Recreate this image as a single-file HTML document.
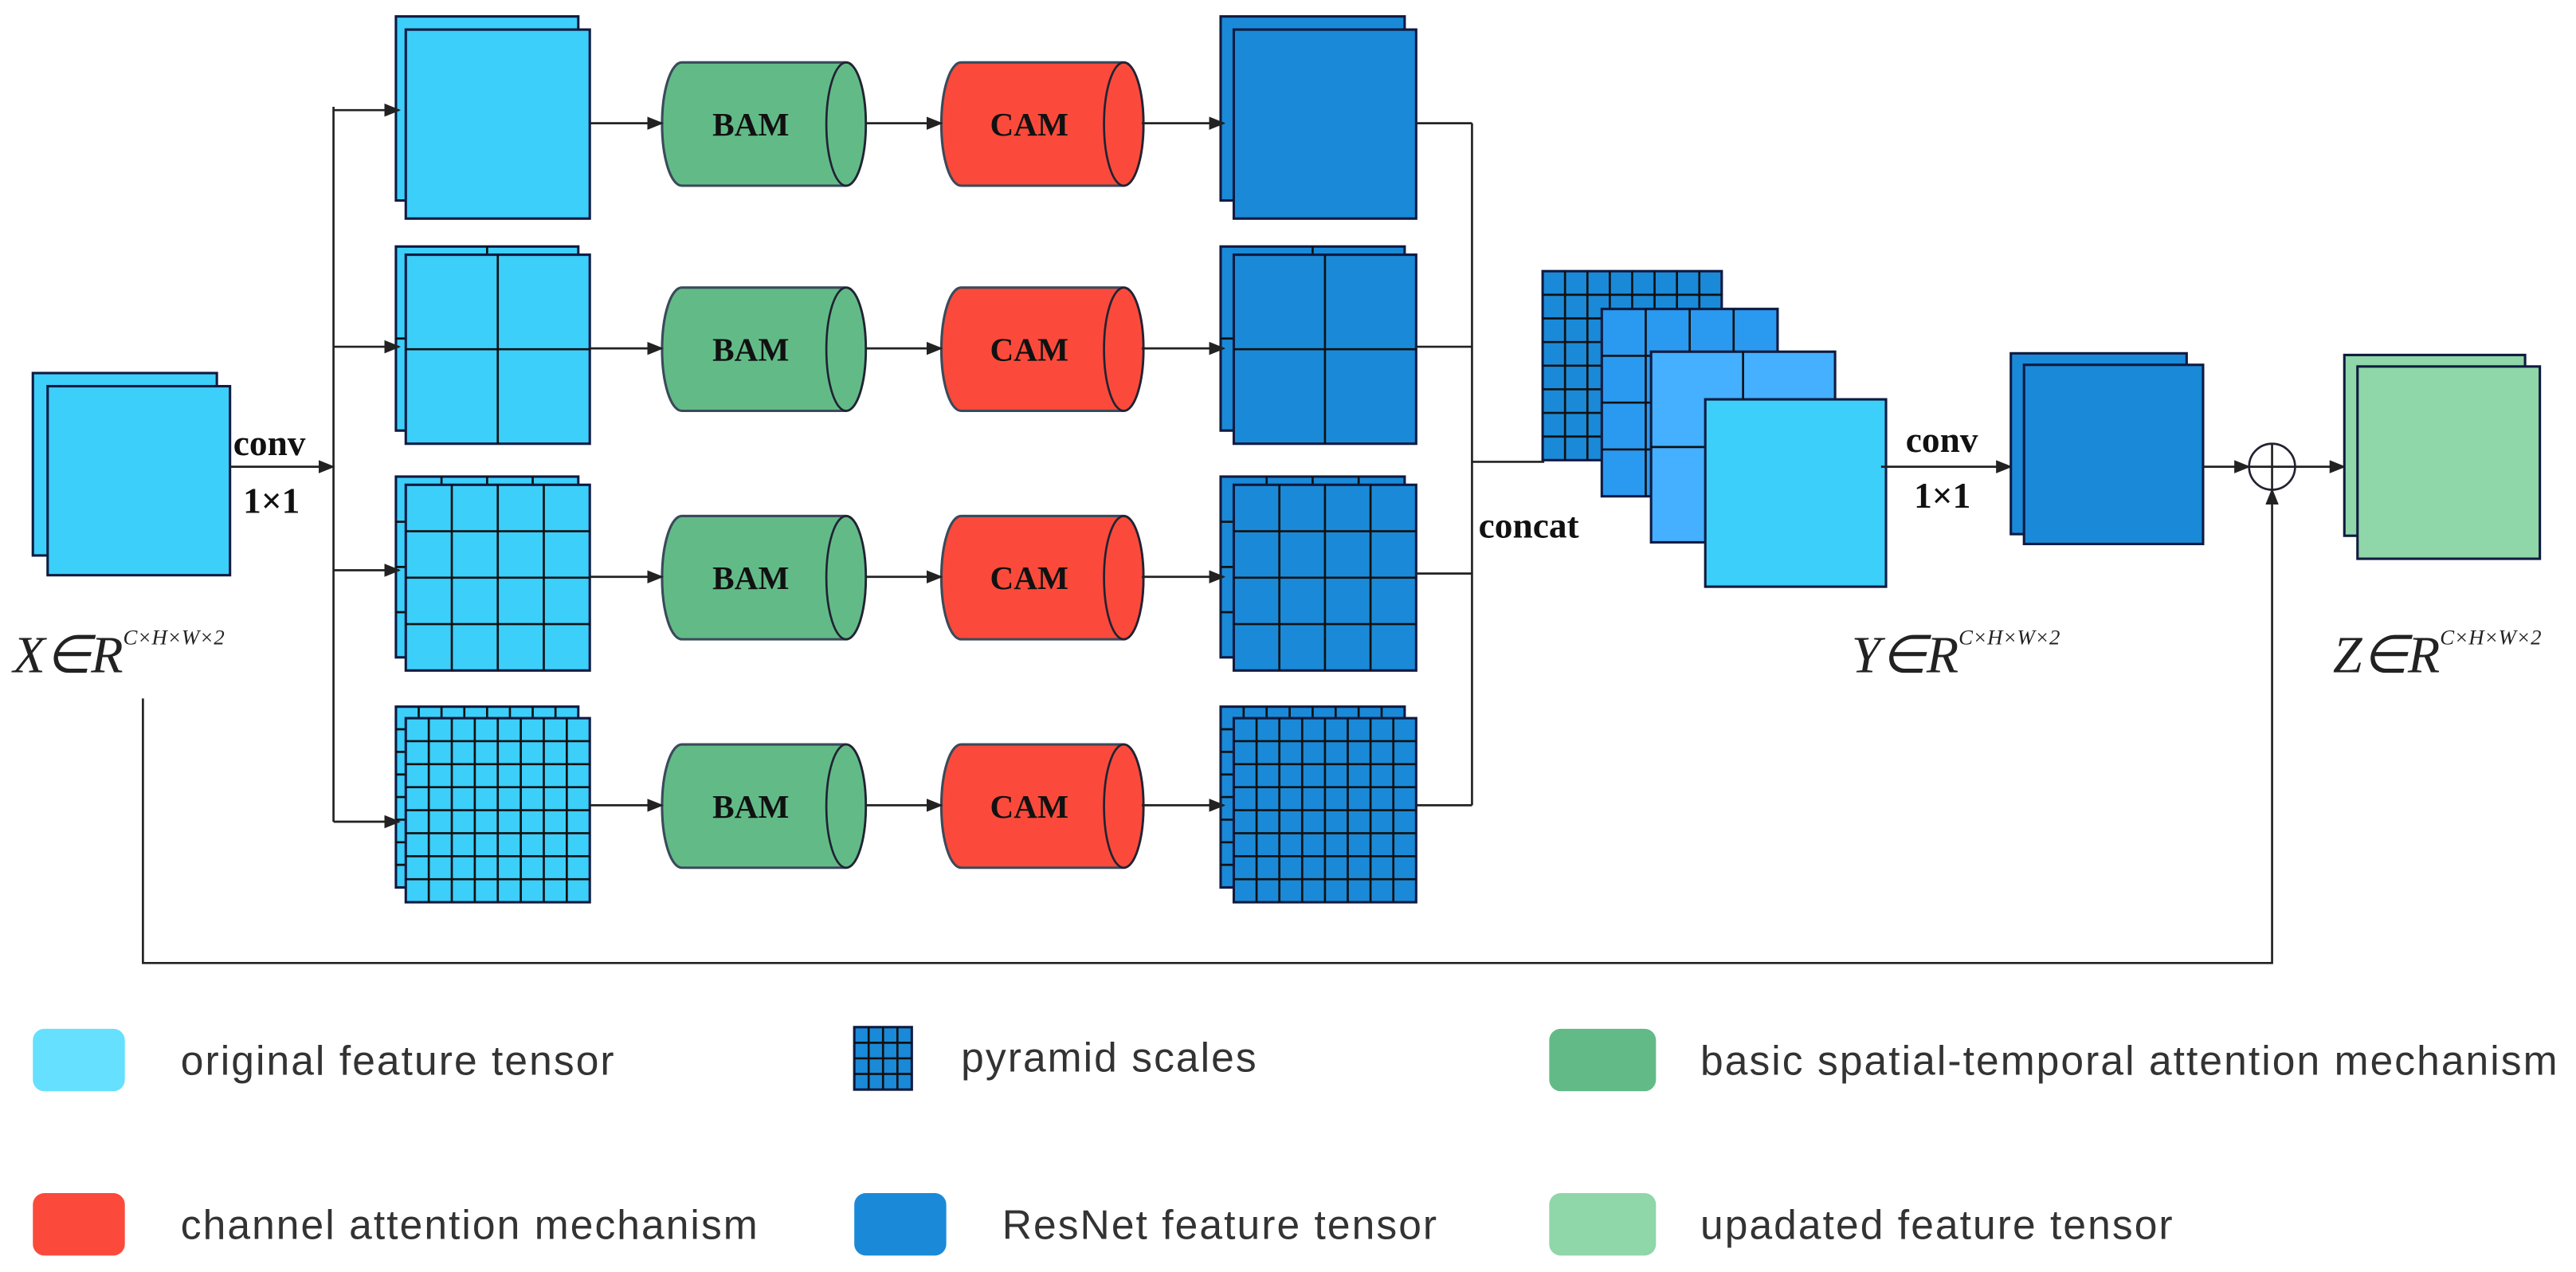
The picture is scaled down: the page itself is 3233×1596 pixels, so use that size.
<!DOCTYPE html>
<html><head><meta charset="utf-8"><style>html,body{margin:0;padding:0;background:#fff}svg{display:block}</style></head>
<body>
<svg id="s" xmlns="http://www.w3.org/2000/svg" width="3233" height="1596" viewBox="0 0 1568 774" preserveAspectRatio="none">
<defs><marker id="a" markerWidth="10" markerHeight="8" refX="9" refY="4" orient="auto" markerUnits="userSpaceOnUse"><path d="M0,0 L10,4 L0,8 Z" fill="#222"/></marker></defs>
<g id="g" stroke-width="1.3"></g>
</svg>
<script>
const g=document.getElementById('g');let h='';
const S='#101a40';
function rect(x1,y1,x2,y2,f,n){h+=`<rect x="${x1}" y="${y1}" width="${x2-x1}" height="${y2-y1}" fill="${f}" stroke="${S}" stroke-width="1.5"/>`;
 if(n>1){for(let i=1;i<n;i++){const x=x1+(x2-x1)*i/n,y=y1+(y2-y1)*i/n;h+=`<line x1="${x}" y1="${y1}" x2="${x}" y2="${y2}" stroke="#111" stroke-width="1.3"/><line x1="${x1}" y1="${y}" x2="${x2}" y2="${y}" stroke="#111" stroke-width="1.3"/>`;}}}
function line(p,arrow){h+=`<polyline points="${p}" fill="none" stroke="#222" stroke-width="1.3" ${arrow?'marker-end="url(#a)"':''}/>`;}
function cyl(x,y,w,hh,f,t){const r=12;h+=`<path d="M${x+r},${y} H${x+w-r} A${r},${hh/2} 0 0 1 ${x+w-r},${y+hh} H${x+r} A${r},${hh/2} 0 0 1 ${x+r},${y} Z" fill="${f}" stroke="#3a4a5a" stroke-width="1.5"/><ellipse cx="${x+w-r}" cy="${y+hh/2}" rx="${r}" ry="${hh/2}" fill="${f}" stroke="#223" stroke-width="1.3"/><text x="${x+w/2-8}" y="${y+hh/2+7}" text-anchor="middle" font-family="Liberation Serif,serif" font-weight="bold" font-size="20" fill="#111">${t}</text>`;}
function txt(x,y,t,s,extra){h+=`<text x="${x}" y="${y}" font-size="${s}" ${extra||''}>${t}</text>`;}
const C1='#3ccffa',C2='#1a8ad8';
rect(20,227,132,338,'#3ccffa');rect(29,235,140,350,'#3ccffa');
const rows=[[10,122,18,133,75],[150,262,155,270,212],[290,400,295,408,350],[430,540,437,549,490]];
const ns=[1,2,4,8];
const bys=[38,175,314,453];
rows.forEach((r,i)=>{
 rect(241,r[0],352,r[1],C1,ns[i]);rect(247,r[2],359,r[3],C1,ns[i]);
 rect(743,r[0],855,r[1],C2,ns[i]);rect(751,r[2],862,r[3],C2,ns[i]);
 cyl(403,bys[i],124,75,'#62bb87','BAM');cyl(573,bys[i],123,75,'#fb4a3b','CAM');
 const cy=bys[i]+37;
 line(`203,${[67,211,347,500][i]} 243,${[67,211,347,500][i]}`,1);
 line(`359,${cy} 403,${cy}`,1);line(`527,${cy} 573,${cy}`,1);line(`695,${cy} 745,${cy}`,1);
 line(`862,${[75,211,349,490][i]} 896,${[75,211,349,490][i]}`);
});
line('203,65 203,500');line('896,75 896,490');line('140,284 203,284',1);
rect(939,165,1048,280,C2,8);rect(975,188,1082,302,'#2a9af0',4);rect(1005,214,1117,330,'#44b0ff',2);rect(1038,243,1148,357,C1);
line('896,281 940,281');
line('1145,284 1224,284',1);
rect(1224,215,1331,325,C2);rect(1232,222,1341,331,C2);
line('1341,284 1369,284',1);
h+='<circle cx="1383" cy="284" r="14" fill="#fff" stroke="#223" stroke-width="1.3"/><line x1="1369" y1="284" x2="1397" y2="284" stroke="#222" stroke-width="1.3"/><line x1="1383" y1="270" x2="1383" y2="298" stroke="#222" stroke-width="1.3"/>';
line('1397,284 1427,284',1);
rect(1427,216,1537,326,'#8fd6a8');rect(1435,223,1546,340,'#8fd6a8');
line('87,425 87,586 1383,586 1383,298',1);
const B='font-family="Liberation Serif,serif" font-weight="bold" fill="#111"';
txt(142,277,'conv',22,B);txt(148,312,'1×1',22,B);txt(900,327,'concat',22,B);txt(1160,275,'conv',22,B);txt(1165,309,'1×1',22,B);
const I='font-family="Liberation Serif,serif" font-style="italic" fill="#222"';
function lab(x,v){h+=`<text x="${x}" y="409" font-size="32" ${I}>${v}∈R<tspan dy="-17" font-size="13">C×H×W×2</tspan></text>`;}
lab(8,'X');lab(1127,'Y');lab(1420,'Z');
const L='font-family="Liberation Sans,sans-serif" fill="#333" letter-spacing="1"';
function lb(x,y,w,f){h+=`<rect x="${x}" y="${y}" width="${w}" height="38" rx="7" fill="${f}"/>`;}
lb(20,626,56,'#66e0ff');txt(110,654,'original feature tensor',25,L);
rect(520,625,555,663,C2,4);txt(585,652,'pyramid scales',25,L);
lb(943,626,65,'#62bb87');txt(1035,654,'basic spatial-temporal attention mechanism',25,L);
lb(20,726,56,'#fb4a3b');txt(110,754,'channel attention mechanism',25,L);
lb(520,726,56,'#1a8ad8');txt(610,754,'ResNet feature tensor',25,L);
lb(943,726,65,'#8fd6a8');txt(1035,754,'upadated feature tensor',25,L);
g.innerHTML=h;
</script>
</body></html>
